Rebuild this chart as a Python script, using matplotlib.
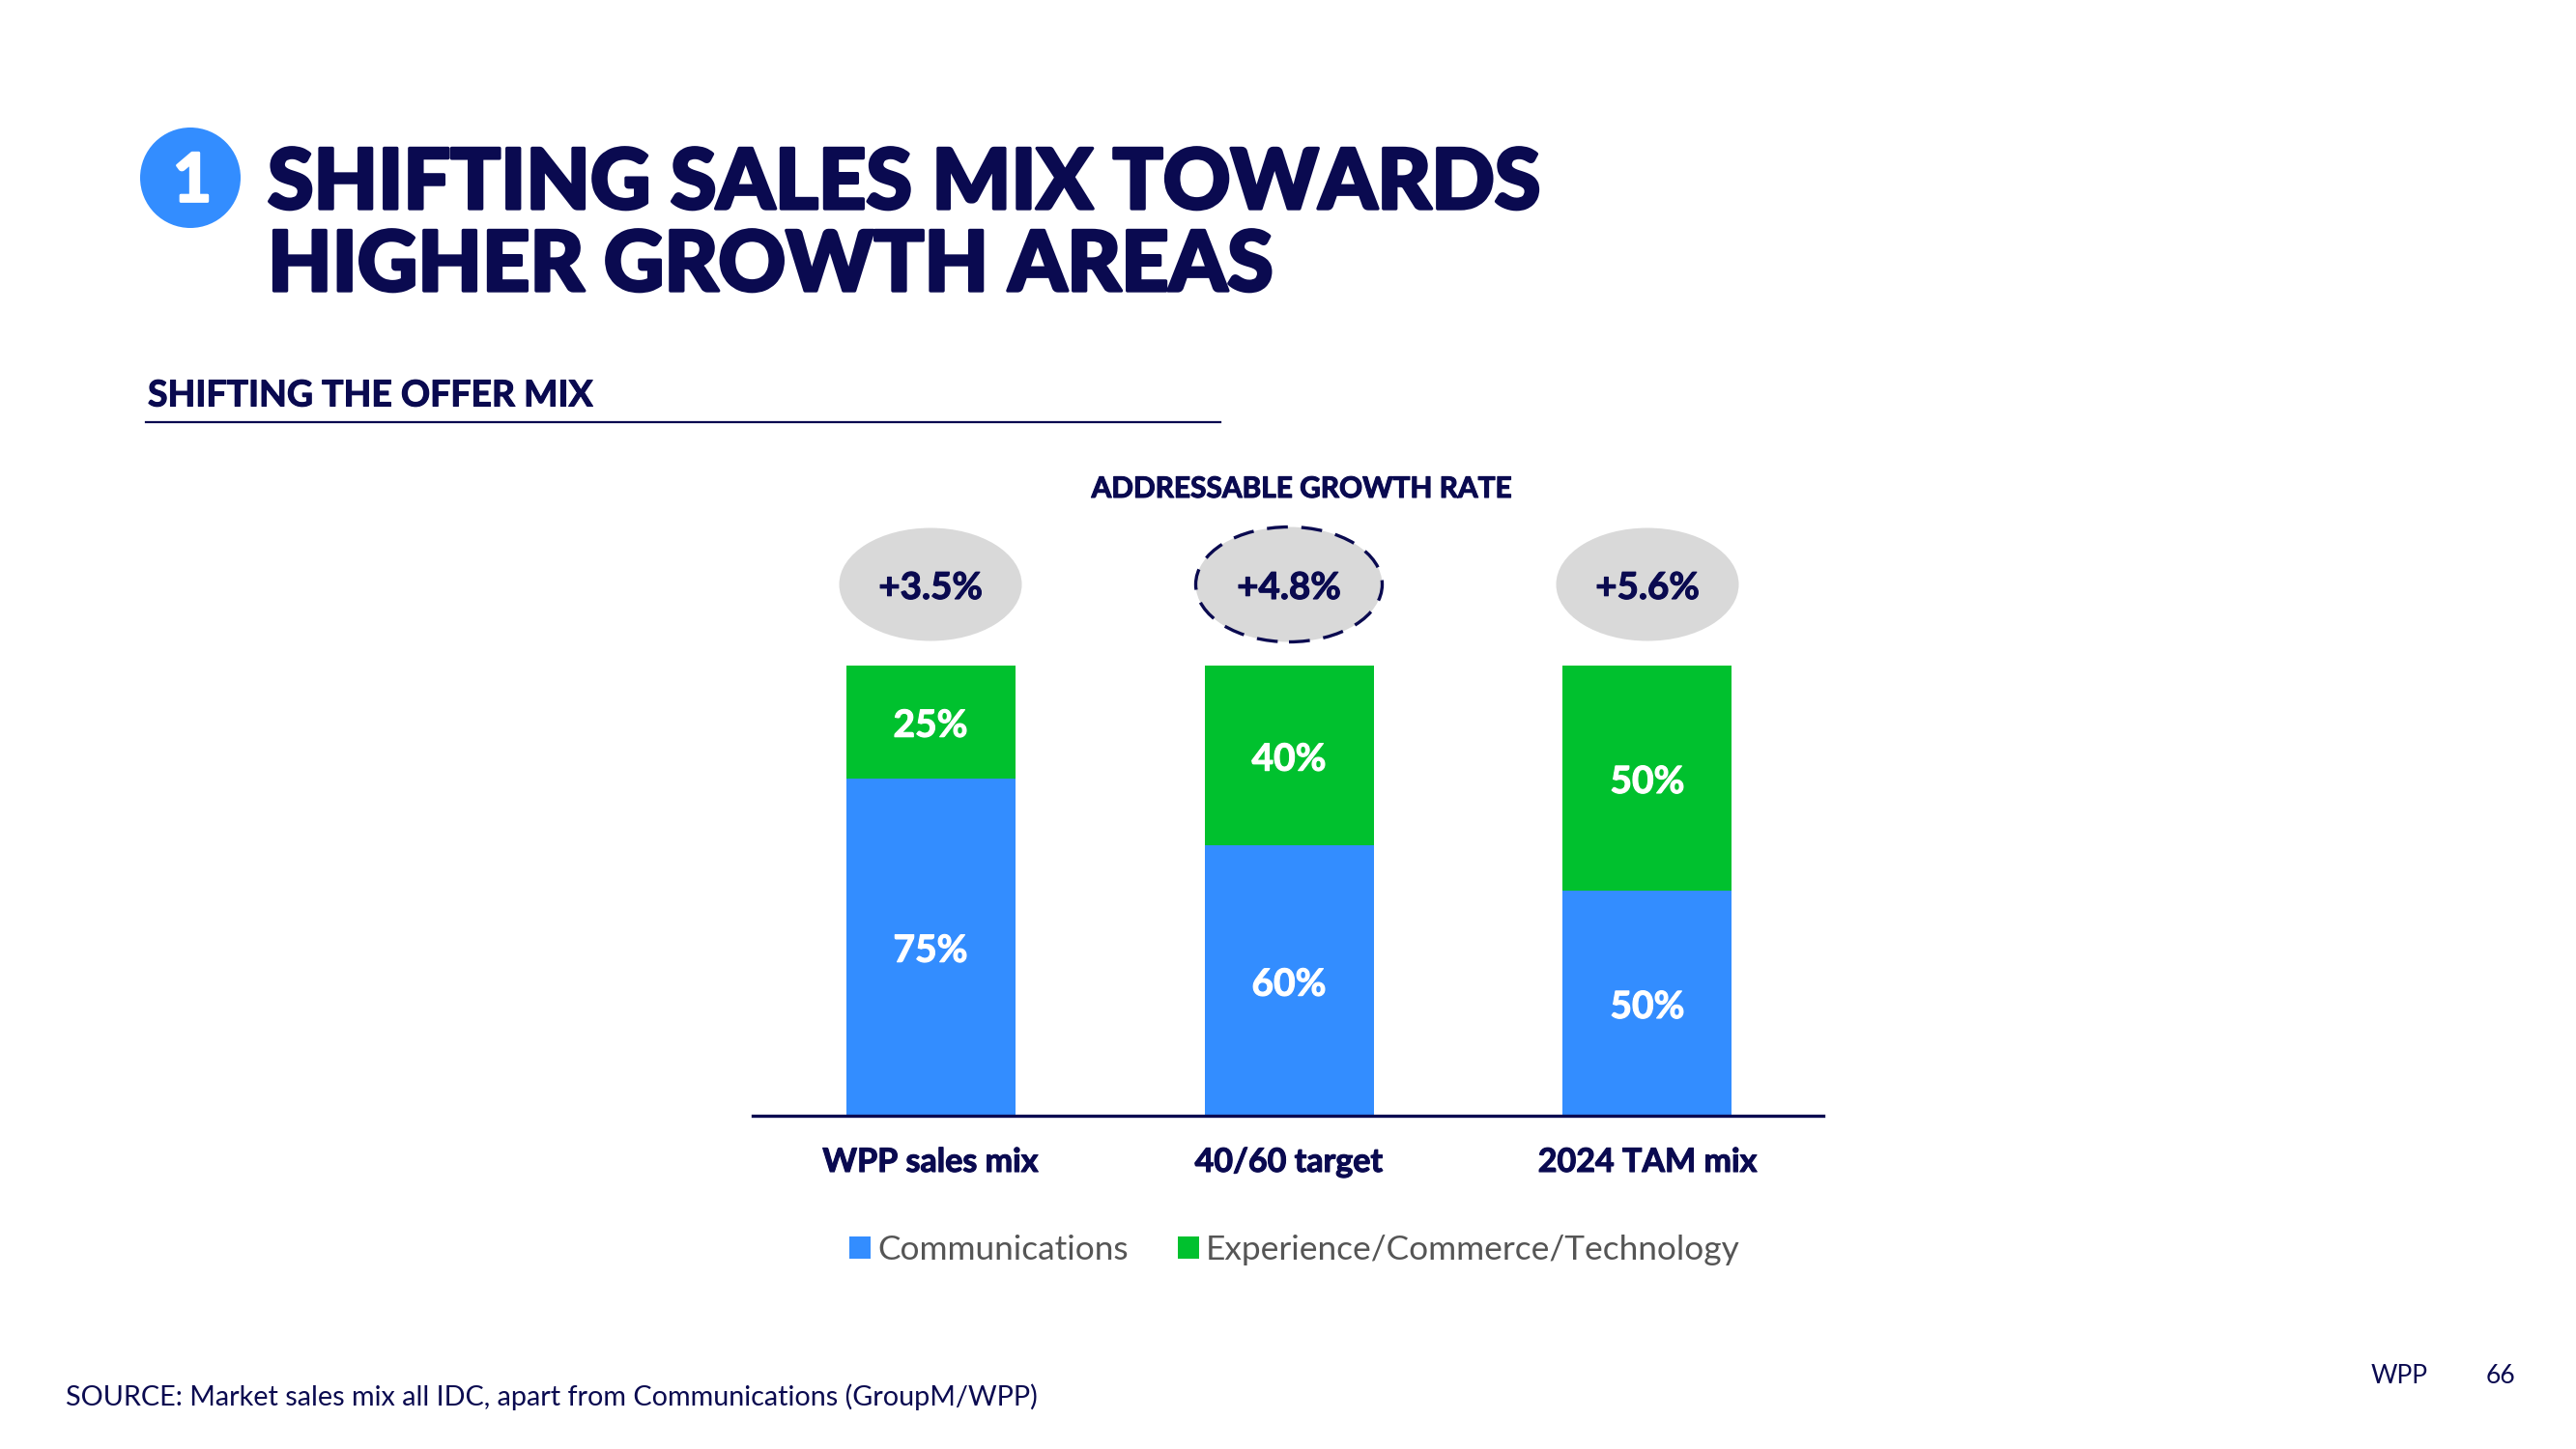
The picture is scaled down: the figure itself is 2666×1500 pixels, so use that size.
import matplotlib
matplotlib.use('Agg')
import matplotlib.pyplot as plt
from matplotlib.patches import Ellipse, Circle, Patch
from matplotlib.lines import Line2D
import matplotlib.patheffects as pe

# ---------------- data ----------------
categories = ['WPP sales mix', '40/60 target', '2024 TAM mix']
communications = [75, 60, 50]
experience = [25, 40, 50]
growth_rates = ['+3.5%', '+4.8%', '+5.6%']
highlight = [False, True, False]
series_names = ['Communications', 'Experience/Commerce/Technology']
title_lines = ['SHIFTING SALES MIX TOWARDS', 'HIGHER GROWTH AREAS']
subtitle = 'SHIFTING THE OFFER MIX'
growth_header = 'ADDRESSABLE GROWTH RATE'
source = 'SOURCE: Market sales mix all IDC, apart from Communications (GroupM/WPP)'

# ---------------- style ----------------
NAVY = '#0A0A50'
BLUE = '#338DFF'
GREEN = '#00C12E'
GREY = '#D9D9D9'
LEG_GREY = '#555555'
FONT = ['Lato', 'DejaVu Sans']
plt.rcParams['font.family'] = FONT

W, H, DPI = 2666, 1500, 100
fig = plt.figure(figsize=(W / DPI, H / DPI), dpi=DPI)
fig.patch.set_facecolor('white')
renderer = fig.canvas.get_renderer()


def fx(x):
    return x / W


def fy(y):
    return 1 - y / H


def fsize(s, target, **kw):
    t = fig.text(0, 0, s, fontsize=10, **kw)
    w = t.get_window_extent(renderer=renderer).width
    t.remove()
    return 10 * target / w


# ---------------- bar axes ----------------
spacing = 371.0
ax = fig.add_axes([fx(779), fy(1155), (1887 - 779) / W, (1155 - 689) / H])
xs = list(range(len(categories)))
bw = 175 / spacing
ax.bar(xs, communications, width=bw, color=BLUE, label=series_names[0], zorder=2)
ax.bar(xs, experience, bottom=communications, width=bw, color=GREEN,
       label=series_names[1], zorder=2)
ax.set_xlim(-184 / spacing, len(categories) - 1 + 182 / spacing)
ax.set_ylim(0, 100)
for s in ['top', 'left', 'right']:
    ax.spines[s].set_visible(False)
ax.spines['bottom'].set_color(NAVY)
ax.spines['bottom'].set_linewidth(2.4)
ax.spines['bottom'].set_zorder(3)
ax.set_xticks([])
ax.set_yticks([])
ax.patch.set_alpha(0)

u = 100 / (1155 - 689)  # data units per pixel
dy = 4 * u               # small downward nudge for Lato's descent

bold_fx = [pe.withStroke(linewidth=0.8, foreground='white')]

# percent labels in bars
fs_pct = fsize('25%', 77, weight='bold')
for i in xs:
    c, e = communications[i], experience[i]
    ax.text(i, c / 2 - dy, f'{c}%', ha='center', va='center', color='white',
            fontsize=fs_pct, weight='bold', zorder=4, path_effects=bold_fx)
    ax.text(i, c + e / 2 - dy, f'{e}%', ha='center', va='center', color='white',
            fontsize=fs_pct, weight='bold', zorder=4, path_effects=bold_fx)

# category labels
navy_fx = [pe.withStroke(linewidth=0.8, foreground=NAVY)]
fs_cat = fsize(categories[0], 223, weight='bold')
for i, lab in enumerate(categories):
    ax.text(i, -44 * u - dy, lab, ha='center', va='center', color=NAVY,
            fontsize=fs_cat, weight='bold', path_effects=navy_fx)

# growth-rate ellipses
ell_y = (1155 - 605) * u
fs_gr = fsize(growth_rates[0], 107, weight='bold')
for i, (g, hl) in enumerate(zip(growth_rates, highlight)):
    if hl:
        e = Ellipse((i, ell_y), 193 / spacing, 119 * u, facecolor=GREY,
                    edgecolor=NAVY, linewidth=2.4, linestyle=(0, (6.5, 4.2)),
                    clip_on=False, zorder=2)
    else:
        e = Ellipse((i, ell_y), 189 / spacing, 117 * u, facecolor=GREY,
                    edgecolor='none', clip_on=False, zorder=2)
    ax.add_patch(e)
    ax.text(i, ell_y - dy, g, ha='center', va='center', color=NAVY, fontsize=fs_gr,
            weight='bold', zorder=4, path_effects=navy_fx)

fig.text(fx(1347), fy(506), growth_header, ha='center', va='center', color=NAVY,
         fontsize=fsize(growth_header, 435, weight='bold'), weight='bold',
         path_effects=navy_fx)

# legend
fs_leg = fsize(series_names[0], 260)
handles = [Patch(facecolor=BLUE, edgecolor='none'), Patch(facecolor=GREEN, edgecolor='none')]
fig.legend(handles, series_names, loc='center', bbox_to_anchor=(fx(1340), fy(1294)),
           ncol=2, frameon=False, fontsize=fs_leg, handlelength=0.62, handleheight=0.62,
           handletextpad=0.2, columnspacing=1.45, labelcolor=LEG_GREY,
           borderaxespad=0, borderpad=0)

# ---------------- title block ----------------
title_fx = [pe.withStroke(linewidth=2.4, foreground=NAVY)]
fs_title = fsize(title_lines[0], 1312, weight='black')
fig.text(fx(277), fy(216), title_lines[0], ha='left', va='baseline', color=NAVY,
         fontsize=fs_title, weight='black', path_effects=title_fx)
fig.text(fx(277), fy(301), title_lines[1], ha='left', va='baseline', color=NAVY,
         fontsize=fs_title, weight='black', path_effects=title_fx)

circ = Circle((197 / DPI, (H - 184) / DPI), 52 / DPI, transform=fig.dpi_scale_trans,
              facecolor=BLUE, edgecolor='none')
fig.add_artist(circ)
fig.text(fx(199), fy(189), '1', ha='center', va='center', color='white',
         fontsize=50, weight='bold',
         path_effects=[pe.withStroke(linewidth=2, foreground='white')])

fig.text(fx(153), fy(410), subtitle, ha='left', va='center', color=NAVY,
         fontsize=fsize(subtitle, 461, weight='bold'), weight='bold',
         path_effects=navy_fx)
fig.add_artist(Line2D([fx(151), fx(1263)], [fy(437), fy(437)], color=NAVY,
                      linewidth=1.6, transform=fig.transFigure))

# ---------------- footer ----------------
fig.text(fx(68), fy(1446), source, ha='left', va='center', color=NAVY,
         fontsize=fsize(source, 1005))
fs_ft = fsize('WPP', 59)
fig.text(fx(2454), fy(1425), 'WPP', ha='left', va='center', color=NAVY, fontsize=fs_ft)
fig.text(fx(2573), fy(1425), '66', ha='left', va='center', color=NAVY, fontsize=fs_ft)

fig.savefig('out.png', dpi=DPI, facecolor='white')
